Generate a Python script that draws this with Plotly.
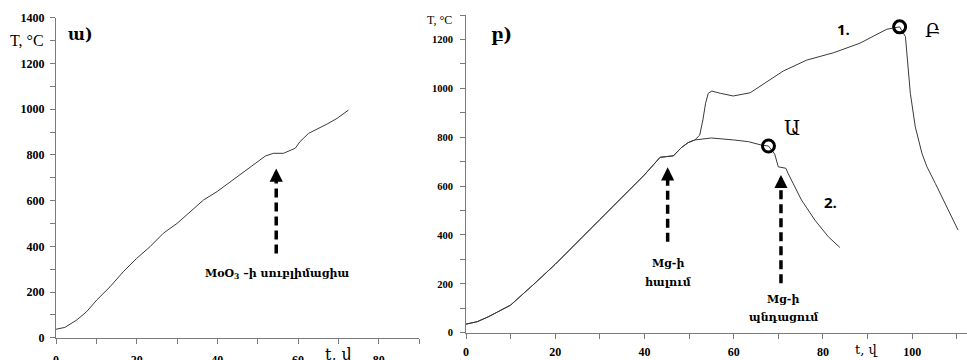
import plotly.graph_objects as go

# ---------------- data ----------------
# panel ա) : heating curve
left_t = [0, 2.2, 5.1, 7.6, 10.1, 13.4, 16.7, 20, 23.3, 26.6, 30, 33.3, 36.6, 39.9,
          43.2, 46.5, 49.8, 51.9, 53.9, 56.4, 59.3, 60.5, 62.6, 64.7, 67.2, 69.7, 72.5]
left_T = [37, 45, 77, 114, 165, 223, 289, 347, 398, 457, 500, 551, 603, 639,
          683, 727, 770, 795, 807, 807, 829, 858, 894, 912, 935, 960, 996]

# panel բ) : common heating part of both curves
common_t = [0, 2.5, 5, 10, 15, 20, 30, 40, 43.5, 46.5, 48.3, 49.8, 51.3]
common_T = [35, 45, 65, 113, 195, 280, 463, 646, 718, 724, 758, 778, 789]

# curve 1 (continues after divergence)
c1_t = [52.4, 53.1, 53.7, 54.3, 55.1, 57, 59.9, 63.7, 67.4, 71.1, 76.4, 82.4,
        88.3, 91.3, 94.3, 97.2, 98.5, 99.6, 100.7, 102.2, 103.3, 105.2, 107.4, 110.3]
c1_T = [809, 871, 939, 980, 989, 980, 969, 982, 1027, 1071, 1116, 1146,
        1185, 1212, 1242, 1252, 1212, 980, 843, 734, 680, 611, 530, 420]

# curve 2 (continues after divergence)
c2_t = [55, 60, 63.3, 66.2, 67.8, 69.2, 70, 71.7, 72.2, 75.2, 78.2, 81.2, 83.8]
c2_T = [797, 789, 782, 768, 764, 731, 679, 673, 652, 543, 461, 393, 349]

# marked points Ա and Բ
point_t = [67.8, 97.2]
point_T = [764, 1252]
point_names = ["Ա", "Բ"]

# arrows: (t, tail T, tip T)
left_arrow = [54.6, 369, 740]
right_arrows_t = [45.2, 70.6]
right_arrows_tail = [372, 202]
right_arrows_tip = [677, 646]

# axis ticks
left_xticks = [0, 20, 40, 60, 80]
left_yticks = [0, 200, 400, 600, 800, 1000, 1200, 1400]
right_xticks = [0, 20, 40, 60, 80, 100]
right_yticks = [0, 200, 400, 600, 800, 1000, 1200]

# ---------------- figure ----------------
W, H = 967, 360
SERIF = "Liberation Serif, DejaVu Serif, DejaVu Sans, serif"
ARM = "DejaVu Serif, DejaVu Sans, serif"
AX = "#7a7a7a"
CURVE = "#3a3a3a"

fig = go.Figure()

fig.add_trace(go.Scatter(x=left_t, y=left_T, mode="lines",
                         line=dict(color=CURVE, width=1), xaxis="x", yaxis="y",
                         hoverinfo="skip"))
fig.add_trace(go.Scatter(x=common_t + c1_t, y=common_T + c1_T, mode="lines",
                         line=dict(color=CURVE, width=1), xaxis="x2", yaxis="y2",
                         hoverinfo="skip"))
fig.add_trace(go.Scatter(x=common_t + c2_t, y=common_T + c2_T, mode="lines",
                         line=dict(color=CURVE, width=1), xaxis="x2", yaxis="y2",
                         hoverinfo="skip"))
fig.add_trace(go.Scatter(x=point_t, y=point_T, mode="markers",
                         marker=dict(symbol="circle-open", size=12, color="black",
                                     line=dict(width=3, color="black")),
                         xaxis="x2", yaxis="y2", hoverinfo="skip"))

DASH = "9px,5px"
# dashed arrow shafts
fig.add_trace(go.Scatter(x=[left_arrow[0]] * 2, y=[left_arrow[1], left_arrow[2] - 40],
                         mode="lines", line=dict(color="black", width=3.5, dash=DASH),
                         xaxis="x", yaxis="y", hoverinfo="skip"))
for t, tail, tip in zip(right_arrows_t, right_arrows_tail, right_arrows_tip):
    fig.add_trace(go.Scatter(x=[t, t], y=[tail, tip - 40], mode="lines",
                             line=dict(color="black", width=3.5, dash=DASH),
                             xaxis="x2", yaxis="y2", hoverinfo="skip"))

annotations = []
# arrow heads
annotations.append(dict(x=left_arrow[0], y=left_arrow[2], ax=left_arrow[0], ay=left_arrow[2] - 50,
                        xref="x", yref="y", axref="x", ayref="y", text="", showarrow=True,
                        arrowhead=2, arrowsize=0.75, arrowwidth=3.5, arrowcolor="black"))
for t, tip in zip(right_arrows_t, right_arrows_tip):
    annotations.append(dict(x=t, y=tip, ax=t, ay=tip - 50, xref="x2", yref="y2",
                            axref="x2", ayref="y2", text="", showarrow=True,
                            arrowhead=2, arrowsize=0.75, arrowwidth=3.5, arrowcolor="black"))


def px(x, y, text, size, family=SERIF, xanchor="center"):
    annotations.append(dict(x=x / W, y=1 - y / H, xref="paper", yref="paper", text=text,
                            showarrow=False, xanchor=xanchor, yanchor="middle",
                            font=dict(size=size, family=family, color="black")))


# panel texts
px(27, 40, "T, °C", 16)
px(80, 34, "<b>ա)</b>", 16, ARM)
px(339, 354, "t, վ", 16, ARM)
px(277, 274, "<b>MoO<sub>3</sub> –ի սուբլիմացիա</b>", 11, ARM)

px(439, 20, "T, °C", 12)
px(501, 35, "<b>բ)</b>", 18, ARM)
px(866, 349, "t, վ", 13, ARM)
px(843, 29, "<b>1.</b>", 15, "Open Sans, Liberation Sans, sans-serif")
px(830, 202, "<b>2.</b>", 15, "Open Sans, Liberation Sans, sans-serif")
px(792, 128, point_names[0], 20, ARM)
px(932, 30, point_names[1], 19, ARM)
px(668, 263, "<b>Mg-ի</b>", 11, ARM)
px(668, 282, "<b>հալում</b>", 11, ARM)
px(783, 299, "<b>Mg-ի</b>", 11, ARM)
px(783, 317, "<b>պնդացում</b>", 11, ARM)

axis_common = dict(showgrid=False, zeroline=False, showline=True, linecolor=AX, linewidth=1,
                   ticks="outside", tickcolor=AX, ticklen=5, tickwidth=1,
                   automargin=False, fixedrange=True)

fig.update_layout(
    width=W, height=H,
    margin=dict(l=0, r=0, t=0, b=0),
    paper_bgcolor="white", plot_bgcolor="white",
    showlegend=False,
    annotations=annotations,
    xaxis=dict(domain=[56 / W, 419 / W], range=[0, 90], anchor="y",
               tickvals=left_xticks, ticklabelstandoff=6,
               minor=dict(dtick=10, tick0=0, ticks="outside", ticklen=5, tickcolor=AX),
               tickfont=dict(family=SERIF, size=12, color="black", weight="bold"),
               **axis_common),
    yaxis=dict(domain=[1 - 337.7 / H, 1 - 17.8 / H], range=[0, 1400], anchor="x",
               tickvals=left_yticks, ticklabelstandoff=3,
               minor=dict(dtick=100, tick0=0, ticks="outside", ticklen=5, tickcolor=AX),
               tickfont=dict(family=SERIF, size=12, color="black", weight="bold"),
               **axis_common),
    xaxis2=dict(domain=[466 / W, 1.0], range=[0, 112.3], anchor="y2",
                tickvals=right_xticks, ticklabelstandoff=3,
                minor=dict(dtick=10, tick0=0, ticks="outside", ticklen=5, tickcolor=AX),
                tickfont=dict(family=SERIF, size=12, color="black", weight="bold"),
                **axis_common),
    yaxis2=dict(domain=[1 - 332.7 / H, 1 - 15.1 / H], range=[0, 1300], anchor="x2",
                tickvals=right_yticks, ticklabelstandoff=5,
                minor=dict(dtick=100, tick0=0, ticks="outside", ticklen=5, tickcolor=AX),
                tickfont=dict(family=SERIF, size=10.5, color="black", weight="bold"),
                **axis_common),
)

fig.write_html("out.html",
               config={"displayModeBar": False},
               post_script="document.body.style.margin='0';document.body.style.padding='0';")
